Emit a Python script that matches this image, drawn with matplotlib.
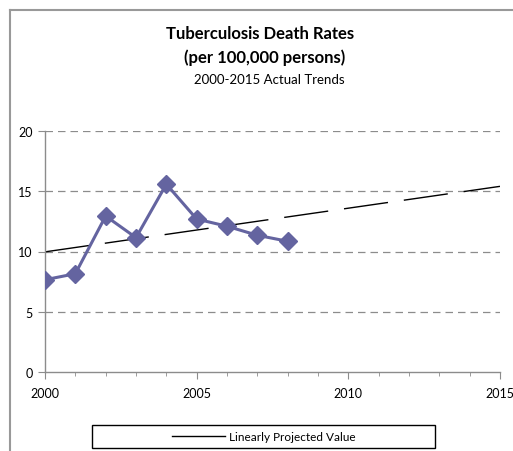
import matplotlib.pyplot as plt
from matplotlib.lines import Line2D
from matplotlib.patches import Rectangle

years = [2000, 2001, 2002, 2003, 2004, 2005, 2006, 2007, 2008]
rates = [7.65, 8.15, 12.95, 11.15, 15.6, 12.7, 12.1, 11.35, 10.85]

trend_years = [2000, 2015]
trend_vals = [9.97, 15.42]

plt.rcParams['font.family'] = ['Lato', 'DejaVu Sans']

fig = plt.figure(figsize=(5.13, 4.52), dpi=100)
ax = fig.add_axes([45 / 513, 79.3 / 452, 455 / 513, 240.4 / 452])

ax.plot(years, rates, color='#6464a0', lw=2.2, marker='D', ms=9,
        markerfacecolor='#6464a0', markeredgecolor='#6464a0', zorder=3)
ax.plot(trend_years, trend_vals, color='black', lw=1.0,
        dashes=(32, 11.5), zorder=2)

ax.set_xlim(2000, 2015)
ax.set_ylim(0, 20)
ax.set_xticks([2000, 2005, 2010, 2015])
ax.set_xticks(range(2000, 2016), minor=True)
ax.set_yticks([0, 5, 10, 15, 20])
for y in [5, 10, 15, 20]:
    ax.axhline(y, color='#8c8c8c', lw=0.9, dashes=(6, 4), zorder=1)

for s in ['top', 'right']:
    ax.spines[s].set_visible(False)
for s in ['left', 'bottom']:
    ax.spines[s].set_color('#8c8c8c')
    ax.spines[s].set_linewidth(1.0)
ax.tick_params(axis='both', which='major', direction='out', length=5,
               color='#8c8c8c', labelsize=9, pad=6)
ax.tick_params(axis='x', which='minor', direction='out', length=3,
               color='#8c8c8c')
ax.tick_params(axis='y', which='major', pad=4)

fig.text(0.507, 0.925, 'Tuberculosis Death Rates', ha='center', va='center',
         fontsize=12, fontweight='bold')
fig.text(0.515, 0.873, '(per 100,000 persons)', ha='center', va='center',
         fontsize=12, fontweight='bold')
fig.text(0.525, 0.822, '2000-2015 Actual Trends', ha='center', va='center',
         fontsize=9.5)

# chart frame (top and left edges)
fig.add_artist(Line2D([9.5 / 513, 9.5 / 513], [0, 1 - 10.5 / 452],
                      color='#999999', lw=1.5, transform=fig.transFigure))
fig.add_artist(Line2D([9.5 / 513, 1], [1 - 10.5 / 452, 1 - 10.5 / 452],
                      color='#999999', lw=1.5, transform=fig.transFigure))

# legend box
fig.add_artist(Rectangle((92 / 513, 3 / 452), 343 / 513, 23 / 452,
                         transform=fig.transFigure, fill=False,
                         edgecolor='black', lw=1.0))
handle = Line2D([], [], color='black', lw=1.0)
fig.legend([handle], ['Linearly Projected Value'],
           loc='center', bbox_to_anchor=(263.5 / 513, 14.5 / 452),
           fontsize=8.5, frameon=False, handlelength=4.5, handletextpad=0.3,
           borderpad=0, borderaxespad=0)

fig.savefig('out.png', dpi=100)
